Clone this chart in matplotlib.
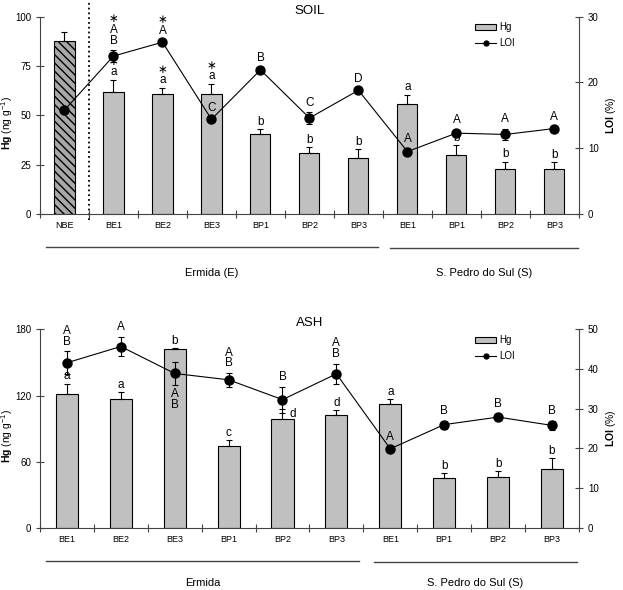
import matplotlib
matplotlib.use("Agg")
import matplotlib.pyplot as plt
from matplotlib.lines import Line2D
from matplotlib.patches import Patch
import numpy as np

plt.rcParams['font.family'] = ['Liberation Sans', 'DejaVu Sans']
plt.rcParams['mathtext.fontset'] = 'custom'
plt.rcParams['mathtext.rm'] = 'Liberation Sans'
plt.rcParams['mathtext.bf'] = 'Liberation Sans:bold'
plt.rcParams['hatch.color'] = '#333333'
plt.rcParams['hatch.linewidth'] = 1.0

# --- SOIL data ---
soil_cats = ["NBE", "BE1", "BE2", "BE3", "BP1", "BP2", "BP3", "BE1", "BP1", "BP2", "BP3"]
soil_hg = [87.7, 62.0, 61.0, 61.0, 40.7, 31.0, 28.3, 55.6, 29.8, 22.7, 22.7]
soil_hg_err = [4.7, 6.0, 3.0, 5.0, 2.2, 3.0, 4.5, 4.8, 5.0, 3.9, 3.6]
soil_loi = [15.8, 24.0, 26.1, 14.4, 21.9, 14.6, 18.8, 9.5, 12.3, 12.1, 13.0]
soil_loi_err = [0.3, 0.9, 0.3, 0.3, 0.3, 0.9, 0.3, 0.5, 0.5, 0.9, 0.3]
soil_hg_lab = ["", "\u2217\na", "\u2217\na", "\u2217\na", "b", "b", "b", "a", "b", "b", "b"]
soil_loi_lab = ["", "\u2217\nA\nB", "\u2217\nA", "C", "B", "C", "D", "A", "A", "A", "A"]

# --- ASH data ---
ash_cats = ["BE1", "BE2", "BE3", "BP1", "BP2", "BP3", "BE1", "BP1", "BP2", "BP3"]
ash_hg = [121.6, 117.0, 162.0, 73.8, 98.6, 102.2, 112.5, 45.4, 46.0, 52.9]
ash_hg_err = [9.0, 6.0, 1.0, 5.8, 9.0, 4.5, 4.0, 4.0, 5.4, 10.0]
ash_loi = [41.6, 45.7, 38.9, 37.3, 32.3, 38.8, 19.9, 26.0, 27.9, 25.8]
ash_loi_err = [2.9, 2.5, 3.0, 1.8, 3.3, 2.6, 0.5, 1.0, 0.8, 1.2]
ash_hg_lab = ["a", "a", "b", "c", "d", "d", "a", "b", "b", "b"]
ash_loi_lab = ["A\nB", "A", "A\nB", "A\nB", "B", "A\nB", "A", "B", "B", "B"]

BAR_COLOR = "#c0c0c0"
AXIS_COLOR = "#444444"
LAB_FS = 8.5


def draw_panel(ax, cats, hg, hg_err, loi, loi_err, hg_lab, loi_lab,
               title, hg_max, hg_ticks, loi_max, loi_ticks,
               hatch_first=False, loi_below=(), hg_right=()):
    n = len(cats)
    x = np.arange(n)
    bars = ax.bar(x, hg, width=0.41, color=BAR_COLOR, edgecolor="black", linewidth=0.8, zorder=2)
    if hatch_first:
        bars[0].set_facecolor("#a8a8a8")
        bars[0].set_hatch("\\\\\\\\")
    ax.errorbar(x, hg, yerr=[np.zeros(n), hg_err], fmt="none", ecolor="black",
                elinewidth=0.8, capsize=2.5, capthick=0.8, zorder=3)
    ax.set_xlim(-0.5, n - 0.5)
    ax.set_ylim(0, hg_max)
    ax.set_yticks(hg_ticks)
    ax.set_xticks(np.arange(n + 1) - 0.5)
    ax.set_xticklabels([])
    ax.set_xticks(x, minor=True)
    ax.set_xticklabels(cats, minor=True)
    ax.tick_params(axis="x", which="minor", length=0, labelsize=6.5, pad=5)
    ax.tick_params(axis="both", which="major", direction="inout", length=6, width=0.8,
                   labelsize=7, color=AXIS_COLOR)
    ax.spines["top"].set_visible(False)
    ax.spines["right"].set_visible(False)
    for s in ("left", "bottom"):
        ax.spines[s].set_color(AXIS_COLOR)
        ax.spines[s].set_linewidth(0.8)
    ax.set_ylabel(r"$\mathbf{Hg}$ (ng g$^{-1}$)", fontsize=7.5)
    ax.yaxis.set_label_coords(-0.047, 0.46)
    ax.set_title(title, fontsize=9.5, pad=1.5)

    ax2 = ax.twinx()
    ax2.errorbar(x, loi, yerr=loi_err, fmt="-o", color="black", ms=6.5, lw=0.8,
                 elinewidth=0.8, capsize=2.5, capthick=0.8, zorder=4)
    ax2.set_ylim(0, loi_max)
    ax2.set_yticks(loi_ticks)
    ax2.tick_params(axis="y", direction="inout", length=6, width=0.8, labelsize=7, color=AXIS_COLOR)
    ax2.spines["top"].set_visible(False)
    ax2.spines["left"].set_visible(False)
    ax2.spines["bottom"].set_visible(False)
    ax2.spines["right"].set_color(AXIS_COLOR)
    ax2.spines["right"].set_linewidth(0.8)
    ax2.set_ylabel(r"$\mathbf{LOI}$ (%)", fontsize=7.5, labelpad=4)

    # letter annotations
    for i in range(n):
        if hg_lab[i]:
            if i in hg_right:
                ax.annotate(hg_lab[i], (x[i] + 0.13, hg[i] + hg_err[i] * 0.5), fontsize=LAB_FS,
                            ha="left", va="center", zorder=5)
            else:
                ax.annotate(hg_lab[i], (x[i], hg[i] + hg_err[i]), xytext=(0, 1),
                            textcoords="offset points", fontsize=LAB_FS, ha="center",
                            va="bottom", linespacing=0.85, zorder=5)
        if loi_lab[i]:
            if i in loi_below:
                ax2.annotate(loi_lab[i], (x[i], loi[i] - loi_err[i]), xytext=(0, -2),
                             textcoords="offset points", fontsize=LAB_FS, ha="center",
                             va="top", linespacing=0.85, zorder=5)
            else:
                ax2.annotate(loi_lab[i], (x[i], loi[i] + loi_err[i]), xytext=(0, 2.5),
                             textcoords="offset points", fontsize=LAB_FS, ha="center",
                             va="bottom", linespacing=0.85, zorder=5)

    handles = [Patch(facecolor=BAR_COLOR, edgecolor="black", linewidth=0.8),
               Line2D([], [], color="black", marker="o", ms=3.5, lw=0.8)]
    ax2.legend(handles, ["Hg", "LOI"], loc="upper left", bbox_to_anchor=(0.8, 0.99),
               frameon=False, fontsize=7, handlelength=2.2, handleheight=0.5,
               handletextpad=0.3, labelspacing=0.6, borderaxespad=0)
    return ax2


def group_line(ax, x0, x1, y_line, y_text, label):
    tr = ax.get_xaxis_transform()
    ax.plot([x0, x1], [y_line, y_line], color="#444444", lw=1.0, transform=tr, clip_on=False)
    ax.text((x0 + x1) / 2, y_text, label, transform=tr, ha="center", va="center", fontsize=8)


fig = plt.figure(figsize=(6.23, 5.90), dpi=100)
ax_top = fig.add_axes([0.0642, 0.637, 0.865, 0.335])
ax_bot = fig.add_axes([0.0642, 0.1056, 0.865, 0.336])

draw_panel(ax_top, soil_cats, soil_hg, soil_hg_err, soil_loi, soil_loi_err,
           soil_hg_lab, soil_loi_lab, "SOIL", 100, [0, 25, 50, 75, 100], 30, [0, 10, 20, 30],
           hatch_first=True)
# dotted separator between NBE and the burnt sites
ax_top.plot([0.5, 0.5], [-3, 108], ls=":", color="black", lw=1.3, clip_on=False, zorder=1)
group_line(ax_top, -0.378, 6.398, -0.167, -0.3, "Ermida (E)")
group_line(ax_top, 6.64, 10.48, -0.172, -0.3, "S. Pedro do Sul (S)")

draw_panel(ax_bot, ash_cats, ash_hg, ash_hg_err, ash_loi, ash_loi_err,
           ash_hg_lab, ash_loi_lab, "ASH", 180, [0, 60, 120, 180], 50, [0, 10, 20, 30, 40, 50],
           loi_below=(2,), hg_right=(4,))
group_line(ax_bot, -0.389, 5.42, -0.168, -0.28, "Ermida")
group_line(ax_bot, 5.70, 9.46, -0.173, -0.28, "S. Pedro do Sul (S)")

fig.savefig("out.png", dpi=100)
